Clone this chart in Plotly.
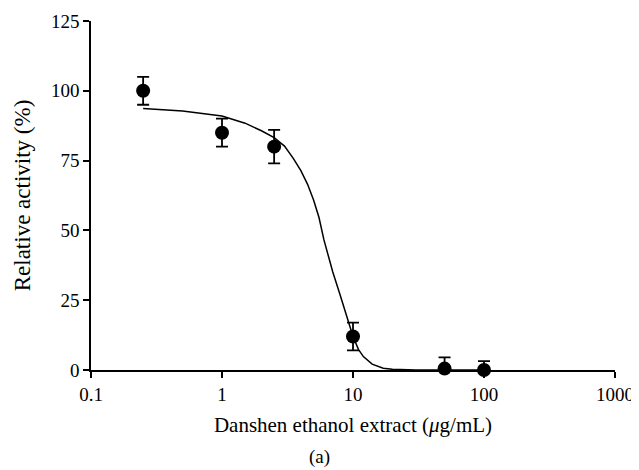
import plotly.graph_objects as go

# Measured data
conc = [0.25, 1, 2.5, 10, 50, 100]
activity = [100, 85, 80, 12, 0.5, 0]
err_plus = [5, 5, 6, 5, 4, 3.2]
err_minus = [5, 5, 6, 5, 0.5, 0]

# Fitted curve
fit_x = [0.25, 0.5, 1, 1.5, 2, 2.5, 3, 3.5, 4, 4.5, 5, 5.5, 6, 6.5, 7, 8, 9, 10,
         11, 12, 14, 17, 20, 30, 50, 100]
fit_y = [93.7, 92.8, 91.0, 88.4, 85.7, 83.2, 80.2, 75.8, 71.4, 66.5, 60.9, 54.6,
         46.6, 40.3, 35.2, 26.7, 18.7, 12.0, 7.4, 4.8, 2.1, 0.6, 0.25, 0.0, 0.0, 0.0]

x_ticks = [0.1, 1, 10, 100, 1000]
x_tick_labels = ["0.1", "1", "10", "100", "1000"]
y_ticks = [0, 25, 50, 75, 100, 125]

FONT = "Liberation Serif"

fig = go.Figure()
fig.add_trace(go.Scatter(
    x=fit_x, y=fit_y, mode="lines",
    line=dict(color="black", width=1.5),
    showlegend=False, hoverinfo="skip", cliponaxis=False,
))
fig.add_trace(go.Scatter(
    x=conc, y=activity, mode="markers",
    marker=dict(color="black", size=14),
    error_y=dict(type="data", symmetric=False, array=err_plus, arrayminus=err_minus,
                 color="black", thickness=1.8, width=6),
    showlegend=False, cliponaxis=False,
))

# page body adds an 8px offset; size the figure so the plot lands where the reference has it
fig.update_layout(
    width=631, height=462,
    margin=dict(l=83, r=24, t=13, b=100),
    plot_bgcolor="white", paper_bgcolor="white",
    font=dict(family=FONT, size=19, color="black"),
    xaxis=dict(
        type="log", range=[-1, 3], automargin=False,
        tickvals=x_ticks, ticktext=x_tick_labels,
        tickfont=dict(size=19),
        showgrid=False, zeroline=False,
        showline=True, linecolor="black", linewidth=1.5,
        ticks="outside", ticklen=6, tickwidth=1.5, tickcolor="black",
        title=dict(text="Danshen ethanol extract (<i>μ</i>g/mL)", font=dict(size=21), standoff=14),
    ),
    yaxis=dict(
        range=[0, 125], tickvals=y_ticks, automargin=False,
        tickfont=dict(size=19),
        showgrid=False, zeroline=False,
        showline=True, linecolor="black", linewidth=1.5,
        ticks="outside", ticklen=6, tickwidth=1.5, tickcolor="black",
        title=dict(text="Relative activity (%)", font=dict(size=23), standoff=14),
    ),
    annotations=[dict(
        text="(a)", xref="paper", yref="paper", x=0.436, y=-0.249,
        showarrow=False, font=dict(family=FONT, size=19, color="black"),
        xanchor="center", yanchor="middle",
    )],
)

fig.write_html("out.html")
